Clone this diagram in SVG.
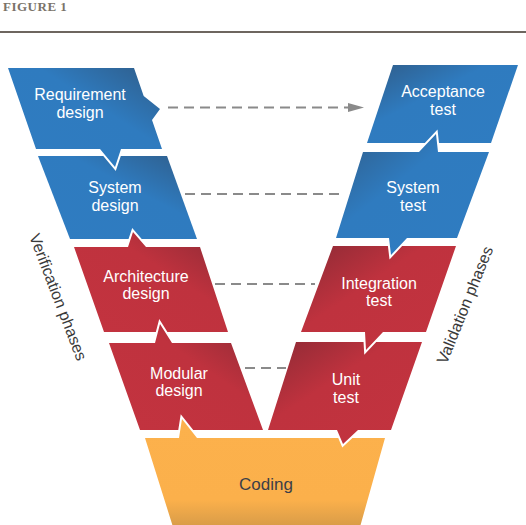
<svg xmlns="http://www.w3.org/2000/svg" width="526" height="525" viewBox="0 0 526 525">
<defs>
<linearGradient id="blueL" x1="1" y1="0" x2="0" y2="1"><stop offset="0" stop-color="#2f5c88"/><stop offset="0.4" stop-color="#2f7bbf"/><stop offset="1" stop-color="#2f7cc1"/></linearGradient>
<linearGradient id="blueR" x1="0" y1="0" x2="1" y2="1"><stop offset="0" stop-color="#2f5c88"/><stop offset="0.4" stop-color="#2f7bbf"/><stop offset="1" stop-color="#2f7cc1"/></linearGradient>
<linearGradient id="redL" x1="1" y1="0" x2="0" y2="1"><stop offset="0" stop-color="#8c2a35"/><stop offset="0.4" stop-color="#bf323e"/><stop offset="1" stop-color="#c3333f"/></linearGradient>
<linearGradient id="redR" x1="0" y1="0" x2="1" y2="1"><stop offset="0" stop-color="#8c2a35"/><stop offset="0.4" stop-color="#bf323e"/><stop offset="1" stop-color="#c3333f"/></linearGradient>
<linearGradient id="orange" x1="0" y1="0" x2="0" y2="1"><stop offset="0" stop-color="#fcb14c"/><stop offset="0.75" stop-color="#fbb04b"/><stop offset="1" stop-color="#d79b48"/></linearGradient>
<marker id="arr" markerUnits="userSpaceOnUse" markerWidth="16" markerHeight="10" refX="2" refY="4.5" orient="auto"><path d="M0,0 L16,4.5 L0,9 Z" fill="#8a8a8a"/></marker>
</defs>
<style>
.shape{stroke:#fff;stroke-width:4;paint-order:stroke fill;stroke-linejoin:miter}
.lbl{font-family:"Liberation Sans",Arial,sans-serif;font-size:16px;fill:#fff;text-anchor:middle}
.side{font-family:"Liberation Sans",Arial,sans-serif;font-size:16px;fill:#3a3a3a;text-anchor:middle}
.dash{stroke:#8a8a8a;stroke-width:2;stroke-dasharray:10 6;fill:none}
</style>
<rect width="526" height="525" fill="#fff"/>
<text x="3" y="11" font-family="'Liberation Serif',serif" font-weight="bold" font-size="13" letter-spacing="0.5" fill="#7a7369">FIGURE 1</text>
<line x1="0" y1="32" x2="526" y2="32" stroke="#6d665f" stroke-width="2"/>

<g id="system-design">
<path class="shape" fill="url(#blueL)" d="M38,156 H167 L197,239 H70 Z"/>
<text class="lbl" x="115" y="193">System</text>
<text class="lbl" x="115" y="211">design</text>
</g>
<g id="requirement-design">
<path class="shape" fill="url(#blueL)" d="M8,68 H134 L143.7,96 L160,109 L152,120 L162,149 H121 L115,167 L100,149 H36 Z"/>
<text class="lbl" x="80" y="100">Requirement</text>
<text class="lbl" x="80" y="117.5">design</text>
</g>
<g id="architecture-design">
<path class="shape" fill="url(#redL)" d="M74,247 H128 L133,232 L146,247 H200 L228,332 H104 Z"/>
<text class="lbl" x="146" y="282">Architecture</text>
<text class="lbl" x="146" y="299">design</text>
</g>
<g id="modular-design">
<path class="shape" fill="url(#redL)" d="M109,343 H155 L160,324 L172,343 H231 L263,430 H140 Z"/>
<text class="lbl" x="179" y="379">Modular</text>
<text class="lbl" x="179" y="396">design</text>
</g>
<g id="coding">
<path class="shape" fill="url(#orange)" d="M145,438 H179 L182,419 L197,438 H385 L360,527 H173 Z"/>
<text x="266" y="490" font-family="'Liberation Sans',Arial,sans-serif" font-size="17" fill="#3b3f48" text-anchor="middle">Coding</text>
</g>
<g id="unit-test">
<path class="shape" fill="url(#redR)" d="M296,342 H422 L391,430 H358 L343,444 L337,430 H268 Z"/>
<text class="lbl" x="346" y="385">Unit</text>
<text class="lbl" x="346" y="403">test</text>
</g>
<g id="integration-test">
<path class="shape" fill="url(#redR)" d="M333,246 H456 L426,332 H383 L366,350 L365,332 H301 Z"/>
<text class="lbl" x="379" y="289">Integration</text>
<text class="lbl" x="379" y="306">test</text>
</g>
<g id="acceptance-test">
<path class="shape" fill="url(#blueR)" d="M393,65 H518 L491,143 H367 Z"/>
<text class="lbl" x="443" y="97">Acceptance</text>
<text class="lbl" x="443" y="115">test</text>
</g>
<g id="system-test">
<path class="shape" fill="url(#blueR)" d="M363,152 H419 L436,134 L438,152 H489 L457,238 H407 L391,255 L389,238 H336 Z"/>
<text class="lbl" x="413" y="193">System</text>
<text class="lbl" x="413" y="211">test</text>
</g>

<g id="connectors">
<line class="dash" x1="168" y1="107.5" x2="350" y2="107.5" marker-end="url(#arr)"/>
<line class="dash" x1="185" y1="194" x2="345" y2="194"/>
<line class="dash" x1="215" y1="284" x2="315" y2="284"/>
<line class="dash" x1="245" y1="368" x2="286" y2="368"/>
</g>

<text class="side" transform="translate(53,299) rotate(69)">Verification phases</text>
<text class="side" transform="translate(470,307) rotate(-68)">Validation phases</text>
</svg>
